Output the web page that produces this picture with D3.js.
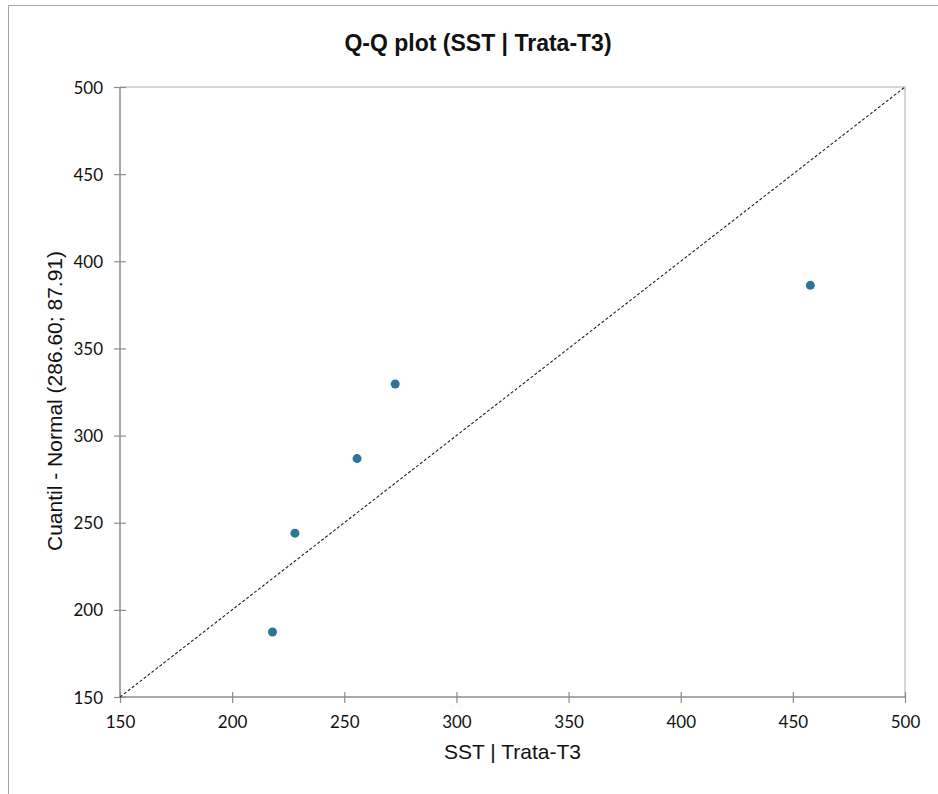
<!DOCTYPE html>
<html><head><meta charset="utf-8">
<script src="https://cdn.jsdelivr.net/npm/d3@7"></script>
<style>body{margin:0;background:#fff}svg{display:block}</style>
</head><body><svg id="c" width="938" height="794"></svg>
<script>
const xValues = [218.0, 228.0, 255.7, 272.7, 457.8];
const yValues = [187.3, 244.0, 286.8, 329.6, 386.2];
const tickValues = [150, 200, 250, 300, 350, 400, 450, 500];
const title = "Q-Q plot (SST | Trata-T3)";
const xTitle = "SST | Trata-T3";
const yTitle = "Cuantil - Normal (286.60; 87.91)";

const svg = d3.select("#c");
const L = 120, R = 905, T = 87, B = 697;
const x = d3.scaleLinear().domain([150, 500]).range([L, R]);
const y = d3.scaleLinear().domain([150, 500]).range([B, T]);

// outer frame
svg.append("rect").attr("x", 8.5).attr("y", 5.5).attr("width", 940).attr("height", 800)
  .attr("fill", "none").attr("stroke", "#a6a6a6").attr("stroke-width", 1);

// plot area border (top/right)
svg.append("path").attr("d", `M${L},${T}H${R}V${B}`).attr("fill", "none")
  .attr("stroke", "#c8c8c8").attr("stroke-width", 1.5);

// axes
const tickFont = "Lato, 'Open Sans', sans-serif";
const xa = svg.append("g").attr("transform", `translate(0,${B})`)
  .call(d3.axisBottom(x).tickValues(tickValues).tickSize(0).tickPadding(0));
xa.select(".domain").remove();
const ya = svg.append("g").attr("transform", `translate(${L},0)`)
  .call(d3.axisLeft(y).tickValues(tickValues).tickSize(0).tickPadding(0));
ya.select(".domain").remove();

svg.append("line").attr("x1", L).attr("x2", R).attr("y1", B).attr("y2", B)
  .attr("stroke", "#8c8c8c").attr("stroke-width", 1.5);
svg.append("line").attr("x1", L).attr("x2", L).attr("y1", T).attr("y2", B)
  .attr("stroke", "#8c8c8c").attr("stroke-width", 1.5);

xa.selectAll(".tick line").attr("y1", -5).attr("y2", 6).attr("stroke", "#8c8c8c").attr("stroke-width", 1.2);
ya.selectAll(".tick line").attr("x1", -6).attr("x2", 6).attr("stroke", "#8c8c8c").attr("stroke-width", 1.2);
xa.selectAll(".tick text").attr("y", 31).attr("dy", 0)
  .attr("font-family", tickFont).attr("font-size", 17).attr("fill", "#111");
ya.selectAll(".tick text").attr("x", -17).attr("dy", "0.36em")
  .attr("font-family", tickFont).attr("font-size", 17).attr("fill", "#111");

// diagonal reference line
svg.append("line").attr("x1", x(150)).attr("y1", y(150)).attr("x2", x(500)).attr("y2", y(500))
  .attr("stroke", "#222").attr("stroke-width", 1.1).attr("stroke-dasharray", "3,2");

// points
svg.append("g").selectAll("circle").data(xValues.map((v, i) => [v, yValues[i]]))
  .join("circle").attr("cx", d => x(d[0])).attr("cy", d => y(d[1])).attr("r", 4.5)
  .attr("fill", "#2e7598");

// titles
svg.append("text").attr("x", 478).attr("y", 51).attr("text-anchor", "middle")
  .attr("font-family", "'Liberation Sans', Arial, sans-serif").attr("font-weight", "bold")
  .attr("font-size", 23).attr("fill", "#111").text(title);
svg.append("text").attr("x", 512.5).attr("y", 759).attr("text-anchor", "middle")
  .attr("font-family", "'Liberation Sans', Arial, sans-serif")
  .attr("font-size", 21).attr("fill", "#111").text(xTitle);
svg.append("text").attr("transform", "translate(62,401) rotate(-90)").attr("text-anchor", "middle")
  .attr("font-family", "'Liberation Sans', Arial, sans-serif")
  .attr("font-size", 21).attr("fill", "#111").text(yTitle);
</script></body></html>
